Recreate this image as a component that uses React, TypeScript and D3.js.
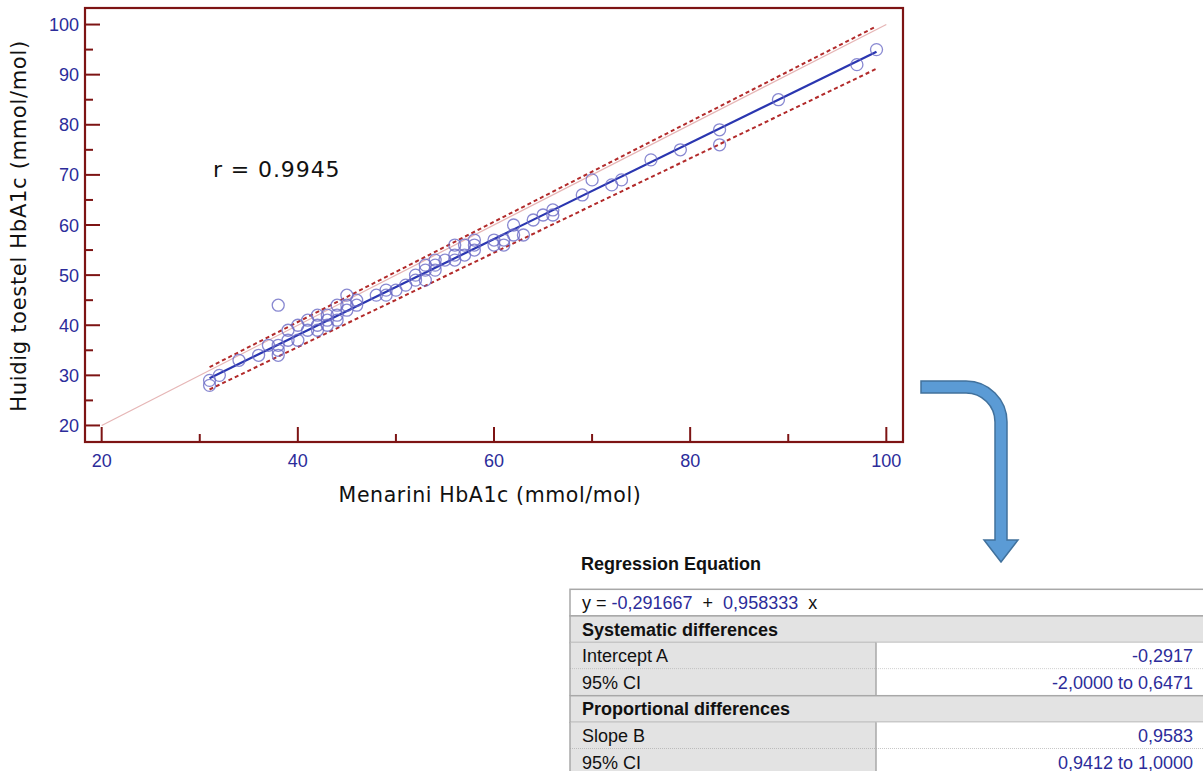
import React from "react";
import * as d3 from "d3";

// ---- data ----
const menarini = [31,31,32,34,36,37,38,38,38,38,39,39,40,40,41,41,42,42,42,43,43,43,44,44,44,45,45,45,46,46,48,49,49,50,51,52,52,53,53,53,54,54,54,55,56,56,56,57,57,58,58,58,60,60,61,61,62,62,63,64,65,66,66,69,70,72,73,76,79,83,83,89,97,99];
const huidig = [29,28,30,33,34,36,44,36,35,34,39,37,40,37,41,39,42,40,39,42,41,40,44,42,41,46,44,43,45,44,46,47,46,47,48,50,49,52,51,49,53,52,51,53,56,54,53,56,54,57,56,55,57,56,57,56,60,58,58,61,62,63,62,66,69,68,69,73,75,79,76,85,92,95];
const xTicks = [20, 40, 60, 80, 100];
const yTicks = [20, 30, 40, 50, 60, 70, 80, 90, 100];
const intercept = -0.291667;
const slope = 0.958333;
const interceptCI = [-2.0, 0.6471];
const slopeCI = [0.9412, 1.0];
const rText = "r = 0.9945";
const tableRows = [
  { type: "eq" },
  { type: "header", label: "Systematic differences" },
  { type: "row", label: "Intercept A", value: "-0,2917", dotted: true },
  { type: "row", label: "95% CI", value: "-2,0000 to 0,6471" },
  { type: "header", label: "Proportional differences" },
  { type: "row", label: "Slope B", value: "0,9583", dotted: true },
  { type: "row", label: "95% CI", value: "0,9412 to 1,0000" },
];

const DARK = "#7d1414";
const BLUE_TXT = "#2c2c9a";
const fmt6 = (v: number) => d3.format(".6f")(v).replace("−", "-").replace(".", ",");

export default function App() {
  const L = 85, R = 903, T = 8, B = 442;
  const x = d3.scaleLinear().domain([18.3, 101.7]).range([L, R]);
  const y = d3.scaleLinear().domain([16.7, 103.3]).range([B, T]);
  const xMin = d3.min(menarini)!, xMax = d3.max(menarini)!;
  const line = d3.line<[number, number]>().x(d => x(d[0])).y(d => y(d[1]));
  const fitLine = (a: number, b: number) => line([[xMin, a + b * xMin], [xMax, a + b * xMax]]);

  const xMinor = d3.range(30, 100, 20);
  const yMinor = d3.range(25, 100, 10);

  // table layout
  const tL = 570, tTop = 589.3, rowH = 26.6, div = 876, tR = 1215;
  const TF = "Liberation Sans, Arial";

  const arrow = "M921,381 L966,381 A41,41 0 0 1 1007,422 L1007,540 L1018,540 L1001,562 L984,540 L995,540 L995,422 A29,29 0 0 0 966,393 L921,393 Z";

  return (
    <svg width={1203} height={771} style={{ position: "absolute", left: 0, top: 0, background: "#fff" }}>
      <rect x={0} y={0} width={1203} height={771} fill="#fff" />
      {/* identity line */}
      <path d={line([[20, 20], [100, 100]])!} stroke="#e6b6b6" strokeWidth={1.3} fill="none" />
      {/* CI lines */}
      <path d={fitLine(interceptCI[1], slopeCI[1])!} stroke="#b22a2a" strokeWidth={2} strokeDasharray="4,3" fill="none" />
      <path d={fitLine(interceptCI[0], slopeCI[0])!} stroke="#b22a2a" strokeWidth={2} strokeDasharray="4,3" fill="none" />
      {/* regression */}
      <path d={fitLine(intercept, slope)!} stroke="#2a36b0" strokeWidth={2.2} fill="none" />
      {/* points */}
      {menarini.map((v, i) => (
        <circle key={i} cx={x(v)} cy={y(huidig[i])} r={6} fill="none" stroke="#6a6ac6" strokeOpacity={0.8} strokeWidth={1.3} />
      ))}
      {/* frame */}
      <rect x={L} y={T} width={R - L} height={B - T} fill="none" stroke={DARK} strokeWidth={2.2} />
      {/* ticks */}
      {xTicks.map(t => (
        <g key={"xt" + t}>
          <line x1={x(t)} x2={x(t)} y1={B} y2={B - 15} stroke={DARK} strokeWidth={2} />
          <text x={x(t)} y={B + 25} textAnchor="middle" fontFamily={TF} fontSize={18} fill={BLUE_TXT}>{t}</text>
        </g>
      ))}
      {xMinor.map(t => (
        <line key={"xm" + t} x1={x(t)} x2={x(t)} y1={B} y2={B - 8} stroke={DARK} strokeWidth={2} />
      ))}
      {yTicks.map(t => (
        <g key={"yt" + t}>
          <line x1={L} x2={L + 15} y1={y(t)} y2={y(t)} stroke={DARK} strokeWidth={2} />
          <text x={L - 6} y={y(t) + 6.5} textAnchor="end" fontFamily={TF} fontSize={18} fill={BLUE_TXT}>{t}</text>
        </g>
      ))}
      {yMinor.map(t => (
        <line key={"ym" + t} x1={L} x2={L + 8} y1={y(t)} y2={y(t)} stroke={DARK} strokeWidth={2} />
      ))}
      {/* titles */}
      <text x={490} y={502} textAnchor="middle" fontFamily="DejaVu Sans, Verdana" fontSize={20.5} letterSpacing={0.6} fill="#111">Menarini HbA1c (mmol/mol)</text>
      <text transform="translate(26,226) rotate(-90)" textAnchor="middle" fontFamily="DejaVu Sans, Verdana" fontSize={21} letterSpacing={0.7} fill="#111">Huidig toestel HbA1c (mmol/mol)</text>
      <text x={213} y={177} fontFamily="DejaVu Sans, Verdana" fontSize={22} letterSpacing={0.9} fill="#111">{rText}</text>

      {/* arrow */}
      <path d={arrow} fill="#5b9bd5" stroke="#41719c" strokeWidth={1.5} />

      {/* table */}
      <text x={581} y={570} fontFamily={TF} fontSize={18} fontWeight="bold" fill="#111">Regression Equation</text>
      {tableRows.map((r: any, i) => {
        const top = tTop + i * rowH;
        const cy = top + rowH / 2 + 6.3;
        if (r.type === "eq") {
          return (
            <g key={i}>
              <rect x={tL} y={top} width={tR - tL} height={rowH} fill="#fff" stroke="#a8a8a8" strokeWidth={1.5} />
              <text x={582} y={cy} fontFamily={TF} fontSize={18} fill="#111" xmlSpace="preserve">
                y = <tspan fill={BLUE_TXT}>{fmt6(intercept)}</tspan>{"  +  "}<tspan fill={BLUE_TXT}>{fmt6(slope)}</tspan>{"  x"}
              </text>
            </g>
          );
        }
        if (r.type === "header") {
          return (
            <g key={i}>
              <rect x={tL} y={top} width={tR - tL} height={rowH} fill="#e3e3e3" stroke="#a8a8a8" strokeWidth={1.5} />
              <text x={582} y={cy} fontFamily={TF} fontSize={18} fontWeight="bold" fill="#111">{r.label}</text>
            </g>
          );
        }
        return (
          <g key={i}>
            <rect x={tL} y={top} width={div - tL} height={rowH} fill="#e3e3e3" />
            <rect x={div} y={top} width={tR - div} height={rowH} fill="#fff" />
            <line x1={tL} x2={tL} y1={top} y2={top + rowH} stroke="#a8a8a8" strokeWidth={1.5} />
            <line x1={div} x2={div} y1={top} y2={top + rowH} stroke="#a8a8a8" strokeWidth={1.5} />
            {r.dotted && (
              <line x1={tL} x2={tR} y1={top + rowH} y2={top + rowH} stroke="#999" strokeWidth={1} strokeDasharray="1,1" />
            )}
            <text x={582} y={cy} fontFamily={TF} fontSize={18} fill="#111">{r.label}</text>
            <text x={1193} y={cy} textAnchor="end" fontFamily={TF} fontSize={18} fill={BLUE_TXT}>{r.value}</text>
          </g>
        );
      })}
    </svg>
  );
}
